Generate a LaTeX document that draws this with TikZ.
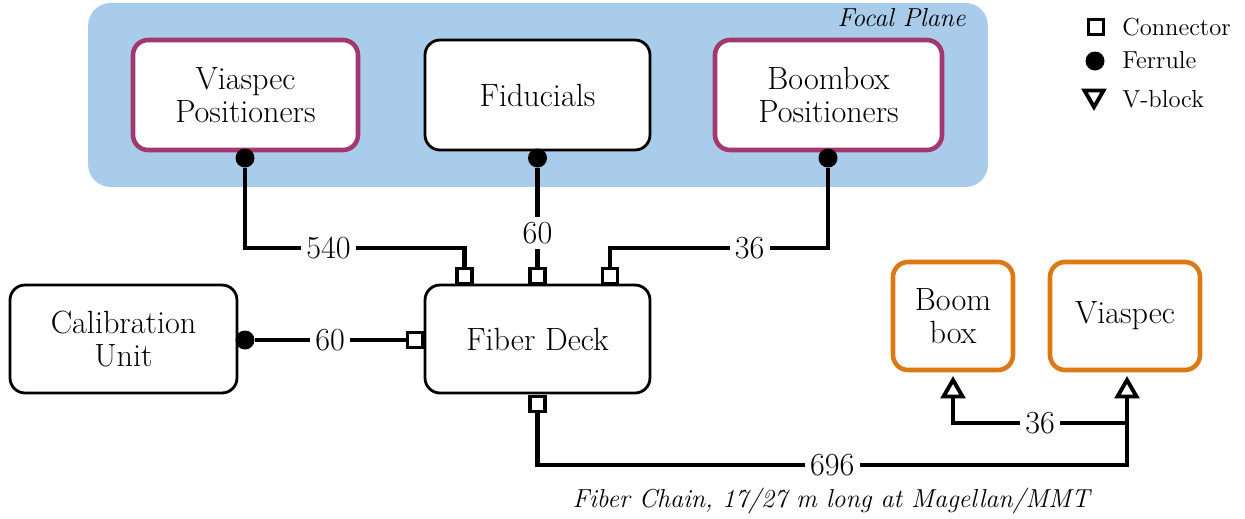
\documentclass[tikz,border=0pt]{standalone}
\usetikzlibrary{shapes.geometric}
\definecolor{fpblue}{RGB}{168,204,233}
\definecolor{posmag}{RGB}{163,56,110}
\definecolor{specorange}{RGB}{221,121,20}
\tikzset{
  box/.style={draw=black, line width=1.6pt, rounded corners=0.3cm, fill=white,
    align=center, inner sep=0pt, font=\fontsize{18.3}{18.7}\selectfont,
    minimum width=4.5cm, minimum height=2.2cm},
  magbox/.style={box, draw=posmag, line width=2.6pt},
  orbox/.style={box, draw=specorange, line width=2.6pt, minimum height=2.16cm},
  wire/.style={line width=2.3pt},
  ferrule/.style={circle, fill=black, inner sep=0pt, minimum size=0.38cm},
  connector/.style={rectangle, draw=black, fill=white, line width=2.2pt,
    inner sep=0pt, minimum size=0.3cm},
  vblock/.style={regular polygon, regular polygon sides=3, draw=black, fill=white,
    line width=2.2pt, inner sep=0pt, minimum size=0.44cm},
  lbl/.style={fill=white, inner sep=3pt, font=\fontsize{18.3}{18.7}\selectfont},
  legend/.style={anchor=base west, inner sep=0pt, font=\fontsize{14}{16}\selectfont},
  note/.style={inner sep=0pt, font=\fontsize{14.8}{16}\selectfont\itshape},
}
\begin{document}
\begin{tikzpicture}[x=0.02cm, y=-0.02cm]
\useasboundingbox (0,0) rectangle (1245,518);

% focal plane region
\node[fill=fpblue, rounded corners=0.45cm, minimum width=18cm, minimum height=3.68cm,
  inner sep=0pt] (fp) at (538,95) {};
\node[note, anchor=base east] (fptitle) at (966,26) {Focal Plane};

% units
\node[magbox] (vp)  at (245.5,95) {Viaspec\\Positioners};
\node[box]    (fid) at (537.5,95) {Fiducials};
\node[magbox, minimum width=4.54cm] (bp) at (828.5,95) {Boombox\\Positioners};
\node[box, minimum width=4.54cm, minimum height=2.16cm] (cal) at (123.5,339) {Calibration\\Unit};
\node[box, minimum height=2.16cm] (deck) at (537.5,339) {Fiber Deck};
\node[orbox, minimum width=2.4cm] (boom) at (953,316) {Boom\\box};
\node[orbox, minimum width=3cm] (vs) at (1125,316) {Viaspec};

% ferrules
\node[ferrule] (f1) at (245,158) {};
\node[ferrule] (f2) at (537.5,158) {};
\node[ferrule] (f3) at (828,158) {};
\node[ferrule] (fc) at (245,340) {};

% connectors
\node[connector] (c1) at (464.5,276) {};
\node[connector] (c2) at (537.5,276) {};
\node[connector] (c3) at (610,276) {};
\node[connector] (cl) at (415,340) {};
\node[connector] (cb) at (537.5,404) {};

% v-blocks
\node[vblock] (v1) at (953,391) {};
\node[vblock] (v2) at (1127,391) {};

% routing levels
\coordinate (bus) at (537.5,248);
\coordinate (low) at (537.5,465);
\coordinate (mid) at (953,423);

% fibre runs
\draw[wire] (f1) -- (f1 |- bus) -| node[lbl, pos=0.19] {540} (c1);
\draw[wire] (f2) -- node[lbl, pos=0.66] {60} (c2);
\draw[wire] (f3) -- (f3 |- bus) -| node[lbl, pos=0.18] {36} (c3);
\draw[wire] (fc) -- node[lbl, pos=0.5] {60} (cl);
\draw[wire] (cb) -- (cb |- low) -| node[lbl, pos=0.25] {696} (v2);
\draw[wire] (v1) -- (v1 |- mid) -- node[lbl, pos=0.5] {36} (v2 |- mid);

\node[note, anchor=base] (caption) at (831,507) {Fiber Chain, 17/27 m long at Magellan/MMT};

% legend
\node[connector] (lc) at (1096,27) {};
\node[ferrule] (lf) at (1095,61) {};
\node[vblock, rotate=180] (lv) at (1094,96) {};
\node[legend] (lct) at (1122,35) {Connector};
\node[legend] (lft) at (1122,68) {Ferrule};
\node[legend] (lvt) at (1122,107) {V-block};
\end{tikzpicture}
\end{document}
